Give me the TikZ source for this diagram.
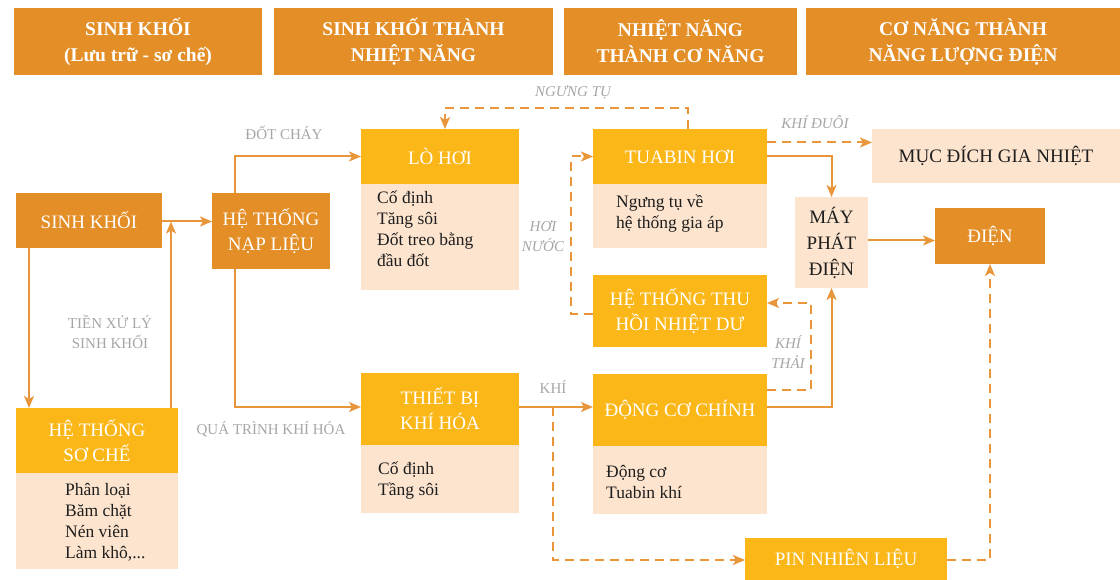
\documentclass[tikz,border=0pt]{standalone}
\usepackage{fontspec}
\setmainfont{Liberation Serif}
\usetikzlibrary{arrows.meta,calc}
\definecolor{hdr}{RGB}{227,142,38}
\definecolor{yel}{RGB}{251,183,24}
\definecolor{pch}{RGB}{253,228,206}
\definecolor{lbl}{RGB}{166,166,166}
\definecolor{ln}{RGB}{233,150,58}
\definecolor{bodyc}{RGB}{30,30,30}
\tikzset{
 box/.style={anchor=north west, inner sep=0pt, outer sep=0pt, align=center},
 hdrbox/.style={box, fill=hdr, text=white, font=\bfseries\fontsize{19.5}{26}\selectfont},
 darkbox/.style={box, fill=hdr, text=white, font=\fontsize{19}{25}\selectfont},
 yelbox/.style={box, fill=yel, text=white, font=\fontsize{19}{25}\selectfont},
 pchbox/.style={box, fill=pch, text=bodyc, font=\fontsize{19}{26}\selectfont},
 bodytext/.style={anchor=north west, inner sep=0pt, align=left, text=bodyc, font=\fontsize{17.5}{21}\selectfont},
 lab/.style={text=lbl, font=\fontsize{15}{20}\selectfont, align=center, inner sep=0pt},
 ilab/.style={lab, font=\itshape\fontsize{15}{20}\selectfont},
 conn/.style={draw=ln, line width=2pt},
 arr/.style={conn, -{Stealth[length=12pt,width=10pt,inset=3pt]}},
 dconn/.style={conn, dash pattern=on 9pt off 6pt},
 darr/.style={arr, dash pattern=on 9pt off 6pt},
}
\begin{document}
\begin{tikzpicture}[x=1pt,y=-1pt]
\useasboundingbox (0,0) rectangle (1120,580);
% headers
\node[hdrbox, minimum width=248, minimum height=67] (h1) at (14,8) {SINH KHỐI\\(Lưu trữ - sơ chế)};
\node[hdrbox, minimum width=279, minimum height=67] (h2) at (274,8) {SINH KHỐI THÀNH\\NHIỆT NĂNG};
\node[hdrbox, minimum width=233, minimum height=67] (h3) at (564,8) {NHIỆT NĂNG\\THÀNH CƠ NĂNG};
\node[hdrbox, minimum width=314, minimum height=67] (h4) at (806,8) {CƠ NĂNG THÀNH\\NĂNG LƯỢNG ĐIỆN};
% column 1
\node[darkbox, minimum width=146, minimum height=55] (sk) at (16,193) {SINH KHỐI};
\node[yelbox, minimum width=162, minimum height=65] (sc) at (16,408) {HỆ THỐNG\\SƠ CHẾ};
\node[pchbox, minimum width=162, minimum height=96] (scb) at (16,473) {};
\node[bodytext] (sct) at (65,483) {Phân loại\\Băm chặt\\Nén viên\\Làm khô,...};
\node[darkbox, minimum width=118, minimum height=76] (nl) at (212,193) {HỆ THỐNG\\NẠP LIỆU};
% column 2
\node[yelbox, minimum width=158, minimum height=55] (lh) at (361,129) {LÒ HƠI};
\node[pchbox, minimum width=158, minimum height=106] (lhb) at (361,184) {};
\node[bodytext] (lht) at (377,191) {Cố định\\Tăng sôi\\Đốt treo bằng\\đầu đốt};
\node[yelbox, minimum width=158, minimum height=72] (tb) at (361,373) {THIẾT BỊ\\KHÍ HÓA};
\node[pchbox, minimum width=158, minimum height=68] (tbb) at (361,445) {};
\node[bodytext] (tbt) at (378,462) {Cố định\\Tầng sôi};
% column 3
\node[yelbox, minimum width=174, minimum height=55] (th) at (593,129) {TUABIN HƠI};
\node[pchbox, minimum width=174, minimum height=64] (thb) at (593,184) {};
\node[bodytext] (tht) at (616,195) {Ngưng tụ về\\hệ thống gia áp};
\node[yelbox, minimum width=174, minimum height=72] (ht) at (593,275) {HỆ THỐNG THU\\HỒI NHIỆT DƯ};
\node[yelbox, minimum width=174, minimum height=72] (dc) at (593,374) {ĐỘNG CƠ CHÍNH};
\node[pchbox, minimum width=174, minimum height=68] (dcb) at (593,446) {};
\node[bodytext] (dct) at (606,465) {Động cơ\\Tuabin khí};
% column 4
\node[pchbox, minimum width=248, minimum height=54] (md) at (872,129) {MỤC ĐÍCH GIA NHIỆT};
\node[pchbox, minimum width=73, minimum height=91] (mp) at (795,197) {MÁY\\PHÁT\\ĐIỆN};
\node[darkbox, minimum width=110, minimum height=56] (dien) at (935,208) {ĐIỆN};
\node[yelbox, minimum width=202, minimum height=42] (pin) at (745,538) {PIN NHIÊN LIỆU};
% labels
\node[lab] (l1) at (284,133) {ĐỐT CHÁY};
\node[lab] (l2) at (271,429) {QUÁ TRÌNH KHÍ HÓA};
\node[lab] (l3) at (110,332) {TIỀN XỬ LÝ\\SINH KHỐI};
\node[ilab] (l4) at (573,92) {NGƯNG TỤ};
\node[ilab] (l5) at (543,236) {HƠI\\NƯỚC};
\node[lab] (l6) at (553,387) {KHÍ};
\node[ilab] (l7) at (815,122) {KHÍ ĐUÔI};
\node[ilab] (l8) at (788,352) {KHÍ\\THẢI};
% connectors
\draw[arr] ([yshift=-1]sk.east) -- ([yshift=-1]sk.east -| nl.west);
\draw[arr] ([xshift=13]sk.south west) -- ([xshift=13]sc.north west);
\draw[arr] ([xshift=-7]sc.north east) -- ([xshift=-7,yshift=-1]sc.north east |- sk.east);
\draw[arr] ([xshift=23]nl.north west) |- (lh.west);
\draw[arr] ([xshift=23]nl.south west) |- ([yshift=2]tb.west);
\draw[arr] ([yshift=2]tb.east) -- ([yshift=2]tb.east -| dc.west);
\coordinate (kb) at ([xshift=34,yshift=2]tb.east);
\draw[darr] (kb) |- ([yshift=-1]pin.west);
\draw[darr] ([xshift=95]th.north west) -- ++(0,-21) -| ([xshift=84]lh.north west);
\draw[darr] ([yshift=-3]ht.west) -- ++(-22,0) |- (th.west);
\draw[darr] ([yshift=14]th.east) -- ([yshift=14]th.east -| md.west);
\draw[arr] (th.east) -| (mp.north);
\draw[arr] ([yshift=2]mp.east) -- ([yshift=2]mp.east -| dien.west);
\draw[arr] ([yshift=3]dc.east) -| (mp.south);
\draw[darr] ([yshift=20]dc.east) -- ++(44,0) |- ([yshift=8]ht.east);
\draw[darr] ([yshift=-1]pin.east) -| (dien.south);
\end{tikzpicture}
\end{document}
